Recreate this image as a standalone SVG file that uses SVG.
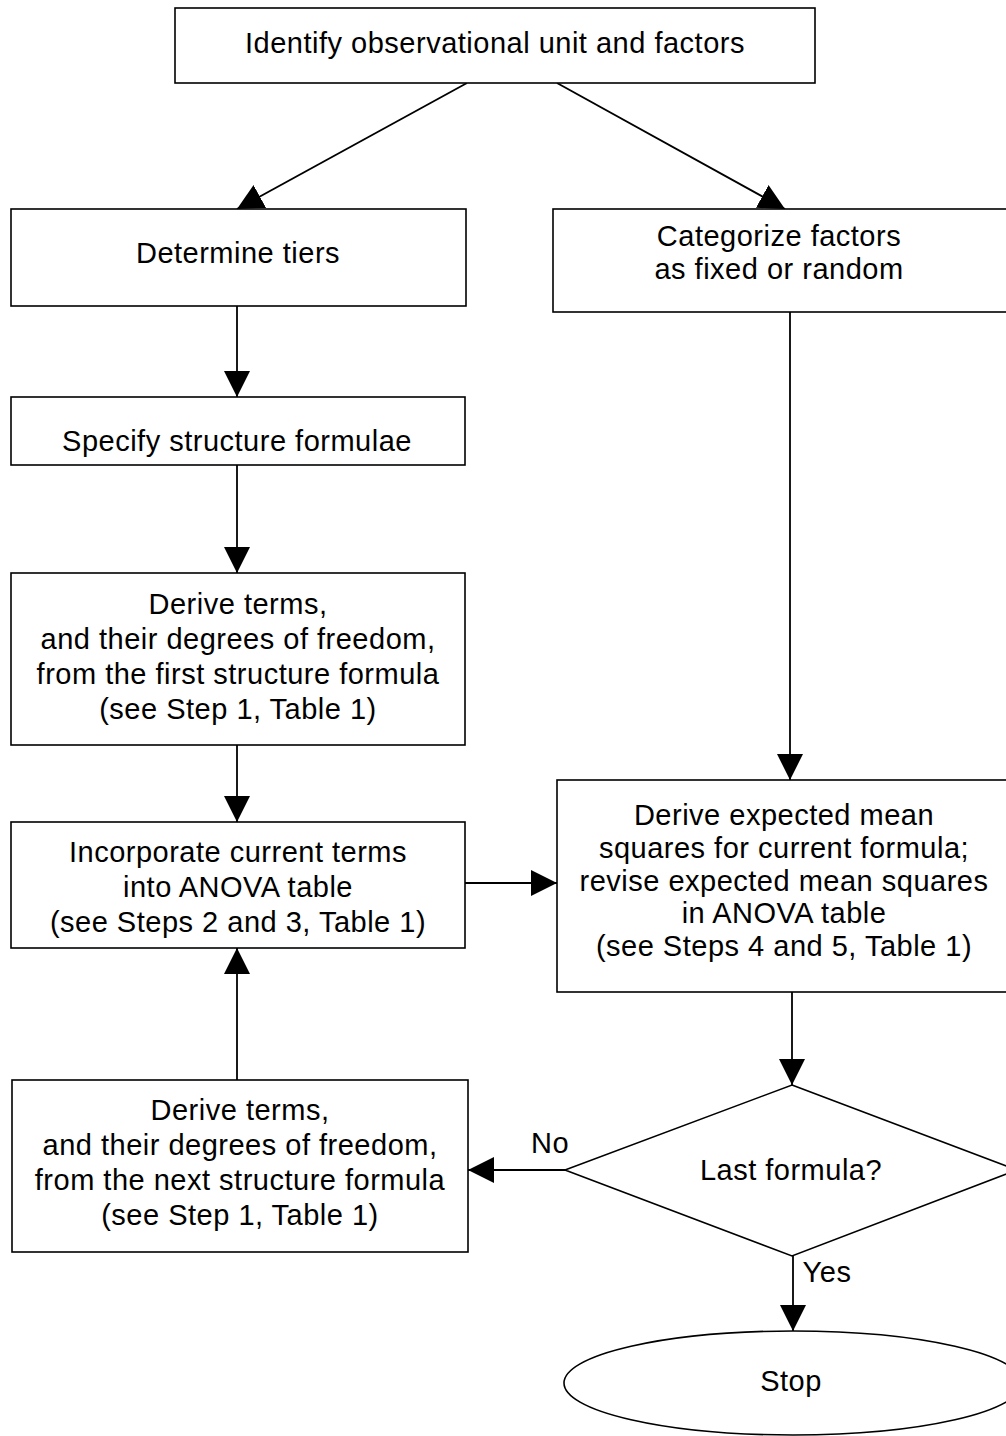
<svg xmlns="http://www.w3.org/2000/svg" width="1006" height="1436" viewBox="0 0 1006 1436">
<style>
.box{fill:#fff;stroke:#000;stroke-width:1.6}
.t{font-family:"Liberation Sans",Arial,sans-serif;font-size:29px;letter-spacing:0.5px;fill:#000;text-anchor:middle}
.c{stroke:#000;stroke-width:1.8;fill:none;marker-end:url(#ah)}
</style>
<defs>
<marker id="ah" markerUnits="userSpaceOnUse" markerWidth="28" markerHeight="28" refX="26" refY="13" orient="auto" viewBox="0 0 28 28">
<path d="M0,0 L26,13 L0,26 z" fill="#000"/>
</marker>
</defs>
<rect width="1006" height="1436" fill="#fff"/>
<g id="connectors">
<line class="c" x1="467" y1="83" x2="237" y2="209"/>
<line class="c" x1="557" y1="83" x2="785" y2="209"/>
<line class="c" x1="237" y1="306" x2="237" y2="397"/>
<line class="c" x1="237" y1="465" x2="237" y2="573"/>
<line class="c" x1="237" y1="745" x2="237" y2="822"/>
<line class="c" x1="465" y1="883" x2="557" y2="883"/>
<line class="c" x1="790" y1="312" x2="790" y2="780"/>
<line class="c" x1="792" y1="992" x2="792" y2="1085"/>
<line class="c" x1="237" y1="1080" x2="237" y2="948"/>
<line class="c" x1="565" y1="1170" x2="468" y2="1170"/>
<line class="c" x1="793" y1="1256" x2="793" y2="1331"/>
<text class="t" x="550" y="1153">No</text>
<text class="t" x="827" y="1282">Yes</text>
</g>
<g id="identify">
<rect class="box" x="175" y="8" width="640" height="75"/>
<text class="t" x="495" y="53">Identify observational unit and factors</text>
</g>
<g id="tiers">
<rect class="box" x="11" y="209" width="455" height="97"/>
<text class="t" x="238" y="263">Determine tiers</text>
</g>
<g id="categorize">
<rect class="box" x="553" y="209" width="460" height="103"/>
<text class="t" x="779" y="246">Categorize factors</text>
<text class="t" x="779" y="279">as fixed or random</text>
</g>
<g id="specify">
<rect class="box" x="11" y="397" width="454" height="68"/>
<text class="t" x="237" y="451">Specify structure formulae</text>
</g>
<g id="derive-first">
<rect class="box" x="11" y="573" width="454" height="172"/>
<text class="t" x="238" y="614">Derive terms,</text>
<text class="t" x="238" y="649">and their degrees of freedom,</text>
<text class="t" x="238" y="684">from the first structure formula</text>
<text class="t" x="238" y="719">(see Step 1, Table 1)</text>
</g>
<g id="incorporate">
<rect class="box" x="11" y="822" width="454" height="126"/>
<text class="t" x="238" y="862">Incorporate current terms</text>
<text class="t" x="238" y="897">into ANOVA table</text>
<text class="t" x="238" y="932">(see Steps 2 and 3, Table 1)</text>
</g>
<g id="derive-ems">
<rect class="box" x="557" y="780" width="456" height="212"/>
<text class="t" x="784" y="825">Derive expected mean</text>
<text class="t" x="784" y="858">squares for current formula;</text>
<text class="t" x="784" y="891">revise expected mean squares</text>
<text class="t" x="784" y="923">in ANOVA table</text>
<text class="t" x="784" y="956">(see Steps 4 and 5, Table 1)</text>
</g>
<g id="derive-next">
<rect class="box" x="12" y="1080" width="456" height="172"/>
<text class="t" x="240" y="1120">Derive terms,</text>
<text class="t" x="240" y="1155">and their degrees of freedom,</text>
<text class="t" x="240" y="1190">from the next structure formula</text>
<text class="t" x="240" y="1225">(see Step 1, Table 1)</text>
</g>
<g id="last-formula">
<polygon class="box" points="792,1085 1017,1170 792,1256 565,1170"/>
<text class="t" x="791" y="1180">Last formula?</text>
</g>
<g id="stop">
<ellipse class="box" cx="793" cy="1383" rx="229" ry="52"/>
<text class="t" x="791" y="1391">Stop</text>
</g>
</svg>
